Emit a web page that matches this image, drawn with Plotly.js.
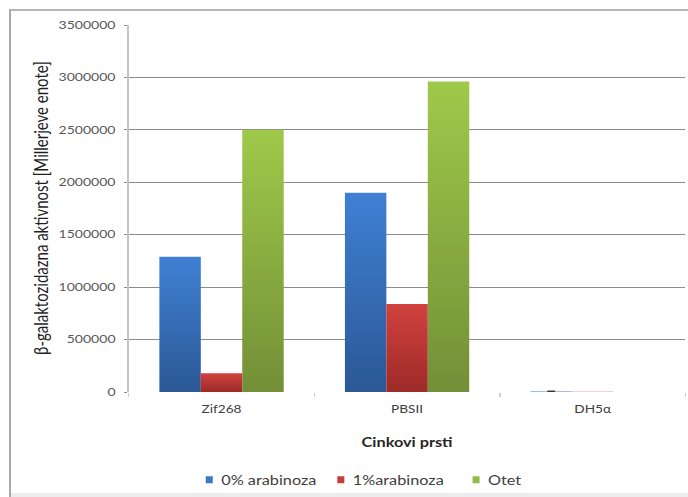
<!DOCTYPE html>
<html>
<head>
<meta charset="utf-8">
<script src="https://cdn.plot.ly/plotly-3.0.1.min.js"></script>
<style>
  html, body { margin: 0; padding: 0; background: #ffffff; }
  #page { position: relative; width: 688px; height: 497px; overflow: hidden; background: #ffffff; }
  #frame { position: absolute; left: 9px; top: 9px; width: 679px; height: 488px;
           border-left: 2px solid #a8a8a8; border-top: 2px solid #b6b6b6; box-sizing: border-box; }
  #foot { position: absolute; left: 11px; top: 493px; width: 677px; height: 4px; background: #ededed; }
  #chart { position: absolute; left: 0; top: 0; width: 529px; height: 497px; transform-origin: 0 0; }
  /* the chart is laid out narrower, then widened horizontally once drawn */
  #chart.wide { transform: scaleX(1.3006); }
</style>
</head>
<body>
<div id="page">
  <div id="frame"></div>
  <div id="foot"></div>
  <div id="chart"></div>
</div>
<script>
// β-galactosidase activity per zinc-finger construct
const categories = ['Zif268', 'PBSII', 'DH5α'];
const seriesNames = ['0% arabinoza', '1%arabinoza', 'Otet'];
const arab0 = [1290000, 1900000, 4000];
const arab1 = [180000, 840000, 1500];
const otet = [2500000, 2960000, 0];
const arab0Err = [NaN, NaN, 4000];
const yTicks = [0, 500000, 1000000, 1500000, 2000000, 2500000, 3000000, 3500000];
const yTitle = 'β-galaktozidazna aktivnost [Millerjeve enote]';
const xTitle = 'Cinkovi prsti';

const flatColors = ['#3c78c8', '#c63c39', '#93bb45'];
const gradStops = [
  ['#3f80d4', '#2b5895'],
  ['#d2423f', '#9c2a28'],
  ['#9fc94a', '#738f37']
];

const FONT = 'Lato, "Open Sans", sans-serif';
const values = [arab0, arab1, otet];
const legendIds = ['legend', 'legend2', 'legend3'];

const traces = values.map((v, i) => {
  const t = {
    type: 'bar',
    name: seriesNames[i],
    x: categories,
    y: v,
    marker: { color: flatColors[i], line: { width: 0 } },
    legend: legendIds[i],
    hoverinfo: 'x+y+name'
  };
  if (i === 0) {
    t.error_y = { type: 'data', array: arab0Err, visible: true,
                  color: '#3a3a3a', thickness: 1.2, width: 3 };
  }
  return t;
});

const legendBase = {
  orientation: 'h', yref: 'paper', y: -0.24, yanchor: 'middle',
  xanchor: 'left', bgcolor: 'rgba(0,0,0,0)', borderwidth: 0,
  font: { family: FONT, size: 12.5, color: '#404040' }
};

const layout = {
  width: 529,
  height: 497,
  margin: { l: 99.2, r: 2.3, t: 25, b: 105, pad: 0 },
  paper_bgcolor: 'rgba(0,0,0,0)',
  plot_bgcolor: 'rgba(0,0,0,0)',
  font: { family: FONT, color: '#404040' },
  barmode: 'group',
  bargap: 0.33,
  bargroupgap: 0,
  showlegend: true,
  xaxis: {
    type: 'category',
    tickson: 'boundaries',
    ticks: 'outside',
    ticklen: 4,
    tickcolor: '#cfcfcf',
    tickwidth: 1,
    showline: false,
    showgrid: false,
    zeroline: false,
    tickfont: { family: FONT, size: 10.5, color: '#404040' },
    ticklabelstandoff: 10,
    title: { text: xTitle, standoff: 23,
             font: { family: FONT, size: 12.5, color: '#262626', weight: 'bold' } }
  },
  yaxis: {
    range: [0, 3500000],
    tickvals: yTicks,
    tickformat: 'd',
    ticks: 'outside',
    ticklen: 3,
    tickcolor: '#8c8c8c',
    tickwidth: 1,
    showline: true,
    linecolor: '#c4c4c4',
    linewidth: 1,
    showgrid: true,
    gridcolor: '#8c8c8c',
    gridwidth: 1,
    zeroline: true,
    zerolinecolor: 'rgba(255,255,255,0)',
    tickfont: { family: FONT, size: 10.8, color: '#595959' },
    ticklabelstandoff: 4
  },
  // vertical axis caption, set beside the tick labels
  annotations: [{
    text: yTitle, textangle: -90, showarrow: false,
    xref: 'paper', yref: 'paper', x: -0.16, y: 0.5,
    xanchor: 'center', yanchor: 'middle',
    font: { family: FONT, size: 15, color: '#1f1f1f' }
  }],
  legend: Object.assign({}, legendBase, { x: 0.0727 }),
  legend2: Object.assign({}, legendBase, { x: 0.309 }),
  legend3: Object.assign({}, legendBase, { x: 0.552 })
};

const gd = document.getElementById('chart');
Plotly.newPlot(gd, traces, layout, { displayModeBar: false, staticPlot: true }).then(() => {
  // vertical gradient fills for the bars
  const svgNS = 'http://www.w3.org/2000/svg';
  const svg = gd.querySelector('.main-svg');
  let defs = svg.querySelector('defs');
  if (!defs) { defs = document.createElementNS(svgNS, 'defs'); svg.insertBefore(defs, svg.firstChild); }
  gradStops.forEach((stops, i) => {
    const g = document.createElementNS(svgNS, 'linearGradient');
    g.setAttribute('id', 'barGrad' + i);
    g.setAttribute('x1', '0'); g.setAttribute('y1', '0');
    g.setAttribute('x2', '0'); g.setAttribute('y2', '1');
    stops.forEach((c, k) => {
      const s = document.createElementNS(svgNS, 'stop');
      s.setAttribute('offset', k === 0 ? '0' : '1');
      s.setAttribute('stop-color', c);
      g.appendChild(s);
    });
    defs.appendChild(g);
  });
  gd.querySelectorAll('.barlayer .trace').forEach((tr, i) => {
    tr.querySelectorAll('.point path, path.point').forEach(p => {
      p.style.fill = 'url(#barGrad' + i + ')';
    });
  });
  // small square legend keys placed close to their labels
  gd.querySelectorAll('.legendpoints path').forEach(p => {
    p.setAttribute('d', 'M13.5,3.5H8.1V-3.5H13.5Z');
  });
  gd.classList.add('wide');
});
</script>
</body>
</html>
